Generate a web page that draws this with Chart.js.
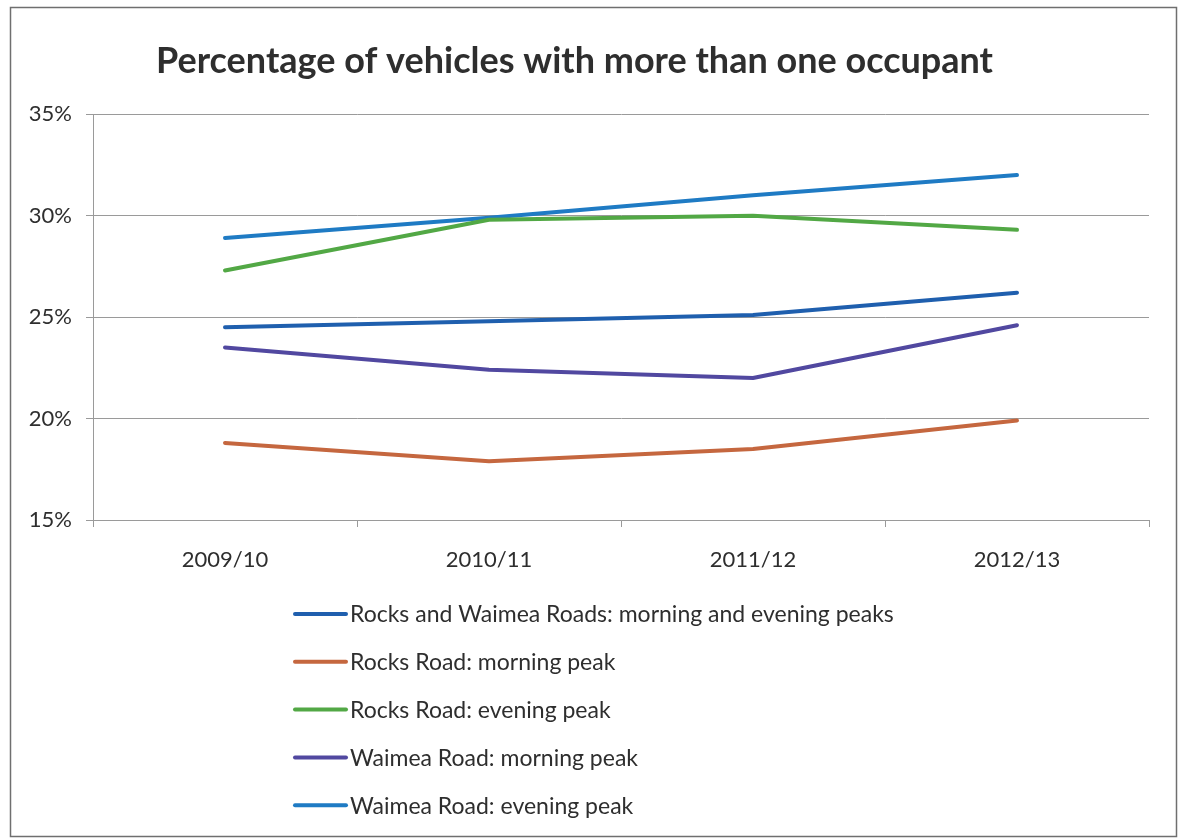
<!DOCTYPE html>
<html>
<head>
<meta charset="utf-8">
<style>
  html, body { margin: 0; padding: 0; background: #ffffff; }
  #wrap { position: relative; width: 1180px; height: 839px; }
</style>
<script src="https://cdn.jsdelivr.net/npm/chart.js@4.4.1/dist/chart.umd.min.js"></script>
</head>
<body>
<div id="wrap"><canvas id="chart" width="1180" height="839"></canvas></div>
<script>
// Survey years
const years = ['2009/10', '2010/11', '2011/12', '2012/13'];

// Share of vehicles carrying more than one person (%)
const rocksWaimeaBoth = [24.5, 24.8, 25.1, 26.2];
const rocksMorning    = [18.8, 17.9, 18.5, 19.9];
const rocksEvening    = [27.3, 29.8, 30.0, 29.3];
const waimeaMorning   = [23.5, 22.4, 22.0, 24.6];
const waimeaEvening   = [28.9, 29.9, 31.0, 32.0];

const seriesNames = [
  'Rocks and Waimea Roads: morning and evening peaks',
  'Rocks Road: morning peak',
  'Rocks Road: evening peak',
  'Waimea Road: morning peak',
  'Waimea Road: evening peak'
];
const seriesColors = ['#1f5fae', '#c5673f', '#52a845', '#5148a0', '#1f7bc4'];

// Y axis range and tick spacing (%)
const yMin = 15, yMax = 35, yStep = 5;

const FONT = 'Lato, "Open Sans", sans-serif';
const TEXT = '#2e2e2e';
const GRID = '#9a9a9a';

// Outer frame around the whole chart
const framePlugin = {
  id: 'frame',
  beforeDraw(chart) {
    const c = chart.ctx;
    c.save();
    c.strokeStyle = '#6f6f6f';
    c.lineWidth = 1.5;
    c.strokeRect(10.5, 7.5, 1166, 829);
    c.restore();
  }
};

// Vertical legend under the plot, one series per row
const stackedLegend = {
  id: 'stackedLegend',
  afterDraw(chart, args, opts) {
    const c = chart.ctx;
    c.save();
    c.font = opts.font;
    c.textBaseline = 'middle';
    c.textAlign = 'left';
    chart.data.datasets.forEach((ds, i) => {
      const y = opts.top + i * opts.rowGap;
      c.strokeStyle = ds.borderColor;
      c.lineWidth = 4;
      c.lineCap = 'round';
      c.beginPath();
      c.moveTo(opts.x, y);
      c.lineTo(opts.x + opts.swatch, y);
      c.stroke();
      c.fillStyle = TEXT;
      c.fillText(ds.label, opts.x + opts.swatch + 4, y + 1);
    });
    c.restore();
  }
};

const allSeries = [rocksWaimeaBoth, rocksMorning, rocksEvening, waimeaMorning, waimeaEvening];

new Chart(document.getElementById('chart'), {
  type: 'line',
  data: {
    labels: years,
    datasets: allSeries.map((vals, i) => ({
      label: seriesNames[i],
      data: vals,
      borderColor: seriesColors[i],
      backgroundColor: seriesColors[i],
      borderWidth: 4,
      borderCapStyle: 'round',
      borderJoinStyle: 'round',
      pointRadius: 0,
      tension: 0,
      fill: false
    }))
  },
  options: {
    responsive: false,
    animation: false,
    events: [],
    layout: { padding: { top: 40, left: 0, right: 31, bottom: 259 } },
    plugins: {
      legend: { display: false },
      tooltip: { enabled: false },
      title: {
        display: true,
        text: 'Percentage of vehicles with more than one occupant',
        color: TEXT,
        font: { family: FONT, size: 36, weight: 'bold' },
        padding: { top: 0, bottom: 31 }
      },
      stackedLegend: { x: 295, swatch: 51, top: 614, rowGap: 47.8, font: '23px ' + FONT }
    },
    scales: {
      x: {
        offset: true,
        grid: { offset: true, drawOnChartArea: false, drawTicks: true, tickLength: 7, color: GRID },
        border: { display: true, color: GRID, width: 1 },
        ticks: { color: TEXT, font: { family: FONT, size: 22 }, padding: 20, maxRotation: 0 },
        afterFit(scale) { scale.height = 60; }
      },
      y: {
        min: yMin,
        max: yMax,
        grid: { color: GRID, lineWidth: 1, drawTicks: true, tickLength: 7 },
        border: { display: true, color: GRID, width: 1 },
        ticks: {
          stepSize: yStep,
          color: TEXT,
          font: { family: FONT, size: 22 },
          padding: 14,
          callback: v => v + '%'
        },
        afterFit(scale) { scale.width = 93; }
      }
    }
  },
  plugins: [framePlugin, stackedLegend]
});
</script>
</body>
</html>
